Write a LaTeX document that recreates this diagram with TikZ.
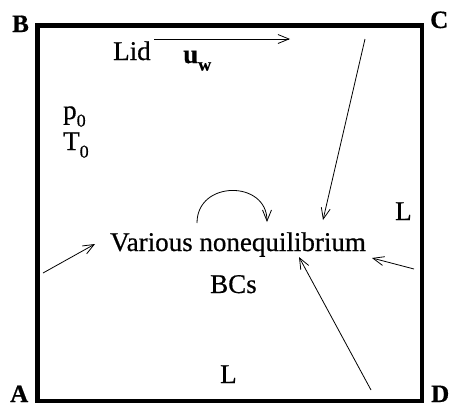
\documentclass[tikz,border=0pt]{standalone}
\usepackage{fontspec}
\setmainfont{Liberation Serif}[FakeBold=0.6]
\usetikzlibrary{arrows.meta}
\newcommand{\mysub}[1]{\raisebox{-0.28em}{\fontsize{18}{18}\selectfont #1}}
\begin{document}
\begin{tikzpicture}[x=1pt,y=-1pt,
  lbl/.style={inner sep=0pt,anchor=base west,text depth=0pt,font=\fontsize{27}{30}\selectfont},
  corner/.style={lbl,font=\fontsize{25}{30}\selectfont\bfseries},
  wall/.style={line width=4.5pt,line join=miter},
  thinarrow/.style={line width=0.8pt,-{Straight Barb[length=11pt,width=9pt,line width=0.8pt]}}]
\useasboundingbox (0,0) rectangle (451,407);
% cavity
\coordinate (pA) at (37.5,401);
\coordinate (pB) at (37.5,25.5);
\coordinate (pC) at (422,25.5);
\coordinate (pD) at (422,401);
\draw[wall] (pA) -- (pB) -- (pC) -- (pD) -- cycle;
% corner labels
\node[corner] (A) at (10,402) {A};
\node[corner] (B) at (12,32) {B};
\node[corner] (C) at (430,28) {C};
\node[corner] (D) at (431,402) {D};
% texts
\node[lbl] (lid) at (113,60) {Lid};
\node[lbl] (uw) at (183,63) {\textbf{u\mysub{w}}};
\node[lbl] (p0) at (63,119) {p\mysub{0}};
\node[lbl] (T0) at (63,150) {T\mysub{0}};
\node[lbl] (various) at (110,251) {Various nonequilibrium};
\node[lbl] (bcs) at (210,293) {BCs};
\node[lbl] (Lr) at (395,220) {L};
\node[lbl] (Lb) at (220,383) {L};
% arrows
\coordinate (lidS) at (154,39);
\coordinate (lidE) at (290,39);
\draw[thinarrow] (lidS) -- (lidE);
\coordinate (c1) at (365,39);
\coordinate (c2) at (323,220);
\draw[thinarrow] (c1) -- (c2);
\coordinate (l1) at (43,273);
\coordinate (l2) at (95,244);
\draw[thinarrow] (l1) -- (l2);
\coordinate (r1) at (414,269);
\coordinate (r2) at (372,258);
\draw[thinarrow] (r1) -- (r2);
\coordinate (b1) at (371,390);
\coordinate (b2) at (299,257);
\draw[thinarrow] (b1) -- (b2);
\coordinate (k1) at (197,223);
\coordinate (k2) at (267,222);
\draw[thinarrow] (k1) .. controls (197,180) and (267,180) .. (k2);
\end{tikzpicture}
\end{document}
